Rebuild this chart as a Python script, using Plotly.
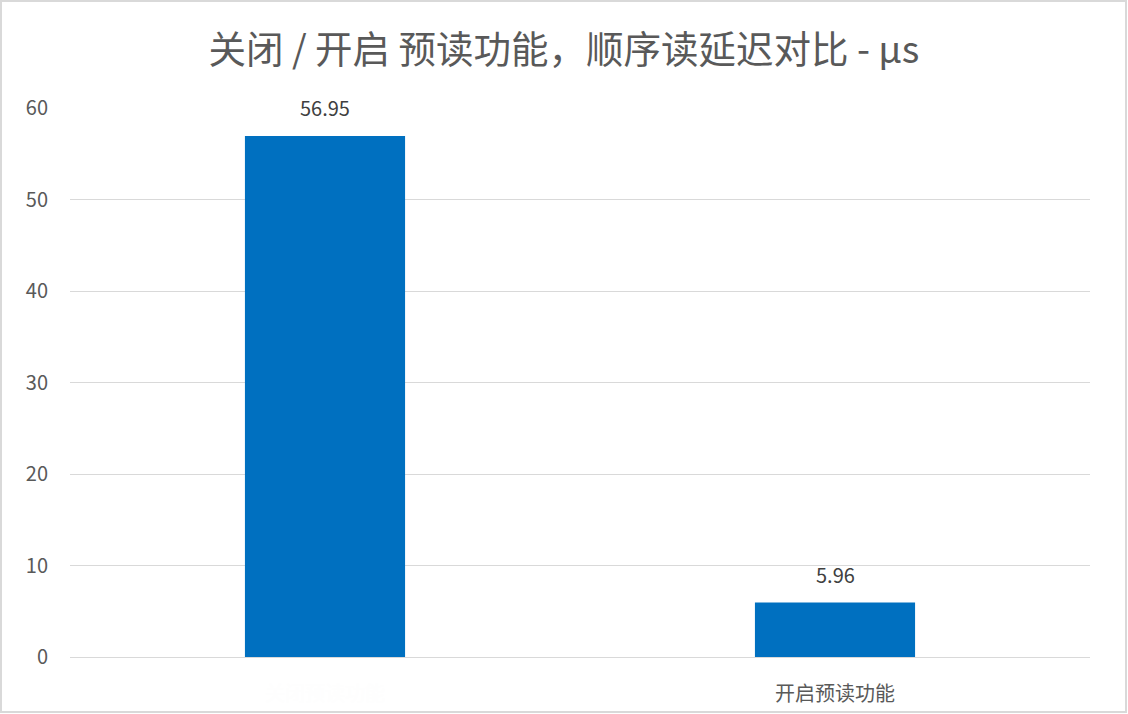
import plotly.graph_objects as go

categories = ["关闭预读功能", "开启预读功能"]
latency_us = [56.95, 5.96]
# first category label is drawn (almost) white in the original
tick_labels = ["<span style='color:#fefefe'>关闭预读功能</span>", "开启预读功能"]
y_ticks = [0, 10, 20, 30, 40, 50, 60]

# the window shows the top 1128x714 of the figure
W, H, VIEW_H = 1128, 800, 714
L, R, T = 70, 38, 108
B = H - 657
pw, ph = W - L - R, H - T - B

fig = go.Figure()
fig.add_trace(go.Bar(x=categories,
                     y=latency_us,
                     marker=dict(color="#0070C0", line=dict(width=0))))

# value labels sit a bit higher above the bars than plotly's own outside text
for c, v in zip(categories, latency_us):
    fig.add_annotation(x=c, y=v, text=f"{v:.2f}", showarrow=False,
                       yanchor="middle", yshift=28,
                       font=dict(size=20, color="#404040"))

fig.update_layout(
    width=W, height=H, autosize=False,
    margin=dict(l=L, r=R, t=T, b=B),
    paper_bgcolor="white",
    plot_bgcolor="white",
    font=dict(family="Noto Sans CJK SC", color="#595959"),
    title=dict(text="关闭 / 开启 预读功能，顺序读延迟对比 - µs",
               x=0.5, xanchor="center", y=1 - 50 / H, yanchor="middle",
               font=dict(size=37.5, color="#595959")),
    bargap=0.686,
    showlegend=False,
)
fig.update_xaxes(tickvals=categories, ticktext=tick_labels,
                 showgrid=False, showline=False, zeroline=False,
                 ticks="outside", ticklen=19, tickcolor="rgba(0,0,0,0)",
                 tickfont=dict(size=20, color="#595959"))
fig.update_yaxes(range=[0, 60], tickvals=y_ticks,
                 showgrid=True, gridcolor="#d9d9d9", gridwidth=1.3,
                 zeroline=True, zerolinecolor="#d9d9d9", zerolinewidth=1.3,
                 showline=False, ticks="", ticklabelstandoff=21,
                 tickfont=dict(size=20, color="#595959"))

# light grey frame around the visible chart
fig.add_shape(type="rect", xref="paper", yref="paper",
              x0=(1 - L) / pw, x1=(W - 2 - L) / pw,
              y0=-(VIEW_H - 2 - (T + ph)) / ph, y1=(T + ph - 1) / ph,
              line=dict(color="#d9d9d9", width=2), fillcolor="rgba(0,0,0,0)",
              layer="below")

fig.write_html("out.html",
               config={"displayModeBar": False, "responsive": False},
               post_script="document.body.style.margin='0';"
                           "document.body.style.overflow='hidden';")
